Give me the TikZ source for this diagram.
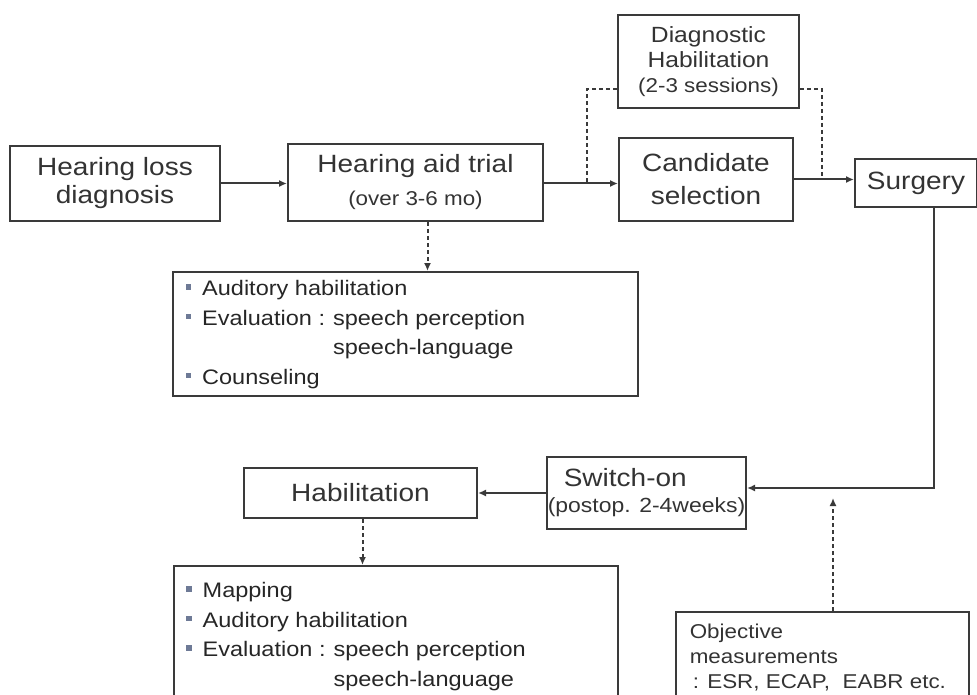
\documentclass[tikz,border=0pt]{standalone}
\usepackage{fontspec}
\setmainfont{Liberation Sans}[FakeStretch=1.12]
\usepackage{tikz}
\usetikzlibrary{arrows.meta,positioning}
\definecolor{ink}{HTML}{333333}
\definecolor{frame}{HTML}{3A3A3A}
\definecolor{bullet}{HTML}{6E7A96}
\newcommand{\bul}{\raisebox{0.28em}{\color{bullet}\rule{0.26em}{0.26em}}\kern11pt}
\newcommand{\subt}{\fontsize{20}{22}\selectfont}

\begin{document}
\begin{tikzpicture}[x=1pt,y=-1pt,
  box/.style={draw=frame, line width=2pt, text=ink, anchor=north west,
    inner sep=0pt, align=center},
  big/.style={font=\fontsize{25}{28}\selectfont},
  flow/.style={draw=frame, line width=2pt, -{Latex[length=8pt,width=7pt]}},
  hint/.style={flow, dash pattern=on 4pt off 3pt},
  hintline/.style={draw=frame, line width=2pt, dash pattern=on 4pt off 3pt}]
  \clip (0,0) rectangle (977,695);

  % Top row
  \node[box, big, minimum width=210, minimum height=75] (hld) at (9,145)
    {Hearing loss\\diagnosis};
  \node[box, big, minimum width=255, minimum height=77] (hat) at (287,143)
    {Hearing aid trial\\[5pt]{\subt (over 3-6 mo)}};
  \node[box, font=\fontsize{22}{25}\selectfont, minimum width=181,
    minimum height=93] (diag) at (617,14)
    {Diagnostic\\Habilitation\\{\subt (2-3 sessions)}};
  \node[box, font=\fontsize{25}{33}\selectfont, minimum width=174,
    minimum height=83] (cand) at (618,137) {Candidate\\selection};
  \node[box, big, minimum width=122, minimum height=48] (surg) at (854,158)
    {Surgery};

  % First list
  \node[box, minimum width=465, minimum height=124, font=\fontsize{21}{29.5}\selectfont,
    text=black!85] (list1) at (172,271) {%
    \begin{tabular}{@{}l@{}l@{\hspace{8pt}}l@{}}
      \bul & \multicolumn{2}{@{}l@{}}{Auditory habilitation}\\
      \bul & Evaluation : & speech perception\\
           &               & speech-language\\
      \bul & \multicolumn{2}{@{}l@{}}{Counseling}
    \end{tabular}\hspace*{100pt}};

  % Lower row
  \node[box, big, minimum width=199, minimum height=72, align=left] (sw) at (546,456)
    {\hspace*{16pt}Switch-on\\[-2pt]{\fontsize{20.5}{22}\selectfont(postop. 2-4weeks)}};
  \node[box, big, minimum width=233, minimum height=50] (hab) at (243,467)
    {Habilitation};

  % Second list
  \node[box, minimum width=444, minimum height=140, font=\fontsize{21}{29.5}\selectfont,
    text=black!85] (list2) at (173,565) {%
    \begin{tabular}{@{}l@{}l@{\hspace{8pt}}l@{}}
      \bul & \multicolumn{2}{@{}l@{}}{Mapping}\\
      \bul & \multicolumn{2}{@{}l@{}}{Auditory habilitation}\\
      \bul & Evaluation : & speech perception\\
           &               & speech-language
    \end{tabular}\hspace*{80pt}};

  % Objective measurements
  \node[box, minimum width=293, minimum height=92, align=left,
    font=\fontsize{20}{25}\selectfont] (obj) at (675,611)
    {Objective\hspace*{172pt}\\measurements\\\hspace*{3pt}: ESR, ECAP,\ \ EABR etc.};

  % Connectors
  \coordinate (split) at (587,182);
  \coordinate (join) at (822,179);
  \coordinate (objend) at (833,498);
  \draw[flow] (hld.east) -- (hld.east -| hat.west);
  \draw[flow] ([yshift=-1pt]hat.east) -- ([yshift=-1pt]hat.east -| cand.west);
  \draw[hintline] (split) |- ([yshift=20pt]diag.south west);
  \draw[hintline] ([yshift=20pt]diag.south east) -| (join);
  \draw[flow] (cand.east) -- (cand.east -| surg.west);
  \draw[hint] ([xshift=12pt]hat.south) -- ([xshift=12pt]hat.south |- list1.north);
  \draw[flow] ([xshift=18pt]surg.south) |- ([yshift=5pt]sw.east);
  \draw[flow] (sw.west) -- (sw.west -| hab.east);
  \draw[hint] ([xshift=2pt]hab.south) -- ([xshift=2pt]hab.south |- list2.north);
  \draw[hint] (obj.north -| objend) -- (objend);
\end{tikzpicture}
\end{document}
